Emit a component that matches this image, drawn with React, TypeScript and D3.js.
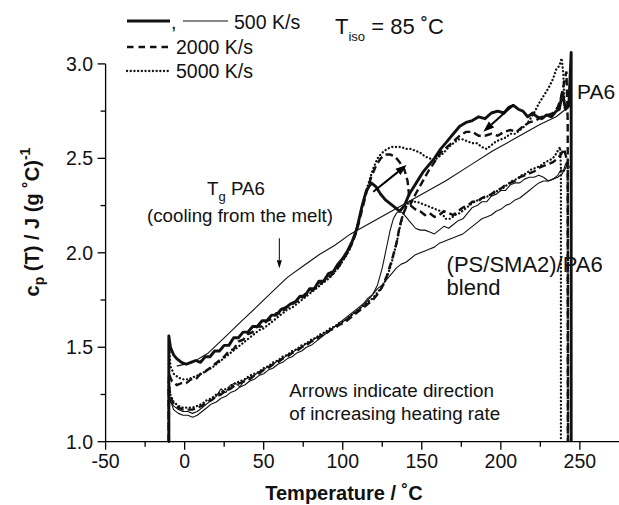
import React from 'react';
import * as d3 from 'd3';

type Pt = [number, number];

// ---- axis ticks ----
const xTickValues = [-50, -25, 0, 25, 50, 75, 100, 125, 150, 175, 200, 225, 250];
const xMajorLabels: [number, string][] = [[-50, '-50'], [0, '0'], [50, '50'], [100, '100'], [150, '150'], [200, '200'], [250, '250']];
const yTickValues = [1.0, 1.25, 1.5, 1.75, 2.0, 2.25, 2.5, 2.75, 3.0];
const yMajorLabels: [number, string][] = [[1.0, '1.0'], [1.5, '1.5'], [2.0, '2.0'], [2.5, '2.5'], [3.0, '3.0']];

// ---- series: 500 K/s thick (upper-left start) ----
const thick500: Pt[] = [[-10,1.0],[-10,1.56],[-9,1.5],[-7,1.46],[-5,1.44],[-2,1.42],[1,1.41],[4,1.42],[7,1.43],[10,1.42],[13,1.45],[16,1.45],[19,1.48],[22,1.48],[25,1.51],[28,1.51],[31,1.55],[34,1.55],[37,1.58],[40,1.58],[43,1.61],[46,1.61],[49,1.64],[52,1.64],[55,1.67],[58,1.67],[61,1.7],[64,1.71],[67,1.73],[70,1.74],[73,1.77],[76,1.77],[79,1.81],[82,1.81],[85,1.85],[88,1.85],[91,1.89],[94,1.9],[97,1.94],[100,1.97],[103,2.01],[106,2.06],[109,2.13],[112,2.24],[115,2.33],[118,2.37],[121,2.35],[124,2.31],[127,2.28],[130,2.26],[133,2.24],[136,2.22],[139,2.25],[142,2.31],[145,2.35],[148,2.39],[151,2.43],[154,2.46],[158,2.5],[162,2.55],[166,2.59],[170,2.63],[174,2.67],[178,2.69],[182,2.7],[186,2.72],[190,2.71],[194,2.74],[198,2.75],[202,2.74],[205,2.77],[208,2.78],[211,2.76],[214,2.75],[217,2.72],[220,2.74],[223,2.72],[226,2.71],[229,2.73],[232,2.72],[235,2.75],[237,2.76],[239,2.85],[240,2.8],[241,2.76],[243,2.78],[244.5,3.06],[244.5,1.0]];

// ---- 2000 K/s dashed (upper-left start) ----
const dashed2000: Pt[] = [[-10,1.0],[-10,1.36],[-8,1.32],[-5,1.3],[-2,1.31],[1,1.31],[4,1.33],[7,1.33],[10,1.36],[13,1.37],[16,1.39],[19,1.41],[22,1.43],[25,1.45],[28,1.48],[31,1.49],[34,1.53],[37,1.54],[40,1.57],[43,1.58],[46,1.61],[49,1.61],[52,1.64],[55,1.65],[58,1.68],[61,1.68],[64,1.71],[67,1.72],[70,1.74],[73,1.75],[76,1.78],[79,1.79],[82,1.81],[85,1.83],[88,1.85],[91,1.87],[94,1.89],[97,1.92],[100,1.96],[103,2.0],[106,2.05],[109,2.12],[112,2.22],[115,2.32],[118,2.4],[121,2.46],[124,2.5],[127,2.52],[130,2.52],[133,2.51],[136,2.48],[139,2.44],[141,2.38],[142,2.3],[143,2.26],[146,2.31],[150,2.37],[154,2.43],[158,2.48],[162,2.53],[166,2.56],[170,2.59],[174,2.62],[178,2.64],[182,2.64],[186,2.62],[190,2.62],[194,2.63],[198,2.62],[202,2.64],[206,2.65],[210,2.64],[214,2.67],[218,2.69],[222,2.7],[226,2.72],[230,2.73],[233,2.74],[236,2.77],[238,2.82],[240,2.9],[241.5,2.96],[242.3,2.7],[242.5,1.0]];

// ---- 5000 K/s dotted (upper-left start) ----
const dotted5000: Pt[] = [[-10,1.0],[-10,1.53],[-9,1.4],[-7,1.36],[-4,1.34],[-1,1.33],[2,1.33],[5,1.34],[8,1.35],[11,1.36],[14,1.38],[17,1.39],[20,1.41],[23,1.43],[26,1.45],[29,1.47],[32,1.49],[35,1.51],[38,1.53],[41,1.55],[44,1.57],[47,1.59],[50,1.6],[53,1.62],[56,1.64],[59,1.66],[62,1.68],[65,1.7],[68,1.71],[71,1.73],[74,1.75],[77,1.77],[80,1.79],[83,1.81],[86,1.83],[89,1.85],[92,1.87],[95,1.9],[98,1.93],[101,1.97],[104,2.01],[107,2.08],[110,2.17],[113,2.27],[116,2.36],[119,2.44],[122,2.5],[125,2.53],[128,2.55],[131,2.56],[134,2.56],[137,2.56],[140,2.55],[143,2.55],[146,2.54],[149,2.53],[152,2.51],[155,2.5],[158,2.49],[161,2.51],[164,2.53],[167,2.56],[170,2.58],[173,2.6],[176,2.6],[179,2.59],[182,2.58],[185,2.58],[188,2.56],[191,2.55],[194,2.57],[197,2.59],[200,2.6],[203,2.61],[206,2.63],[209,2.63],[212,2.65],[215,2.67],[218,2.7],[221,2.74],[224,2.79],[227,2.83],[230,2.87],[233,2.92],[235,2.97],[237,2.99],[238.5,3.03],[239.5,2.95],[240.5,2.75]];

// ---- 500 K/s thin (lower-left start) ----
const thin500: Pt[] = [[-10,1.0],[-10,1.27],[-9,1.21],[-7,1.19],[-4,1.17],[-1,1.16],[2,1.16],[5,1.15],[8,1.16],[11,1.18],[14,1.2],[17,1.22],[20,1.24],[23,1.28],[26,1.26],[29,1.3],[32,1.31],[35,1.29],[38,1.33],[41,1.34],[44,1.35],[47,1.37],[50,1.38],[53,1.4],[56,1.41],[59,1.43],[62,1.44],[65,1.46],[68,1.47],[71,1.49],[74,1.5],[77,1.52],[80,1.53],[83,1.55],[86,1.56],[89,1.58],[92,1.59],[95,1.61],[98,1.62],[101,1.64],[104,1.66],[107,1.68],[110,1.7],[113,1.72],[116,1.75],[119,1.78],[122,1.83],[125,1.92],[128,2.04],[130,2.12],[132,2.18],[134,2.21],[136,2.22],[138,2.21],[140,2.19],[143,2.16],[146,2.13],[149,2.12],[152,2.12],[155,2.11],[158,2.1],[161,2.12],[164,2.14],[167,2.13],[170,2.15],[173,2.17],[176,2.18],[179,2.21],[182,2.24],[185,2.25],[188,2.27],[191,2.27],[194,2.3],[197,2.31],[200,2.33],[203,2.33],[206,2.36],[209,2.37],[212,2.37],[215,2.39],[218,2.4],[221,2.4],[224,2.41],[227,2.4],[230,2.38],[233,2.39],[236,2.41],[238,2.44],[240,2.43],[242,2.47],[244,2.45]];

// ---- 2000 K/s dashed (lower-left start) ----
const dashed2000b: Pt[] = [[-10,1.0],[-10,1.3],[-9,1.24],[-7,1.2],[-4,1.18],[-1,1.17],[2,1.17],[5,1.17],[8,1.18],[11,1.19],[14,1.21],[17,1.22],[20,1.24],[23,1.25],[26,1.27],[29,1.28],[32,1.3],[35,1.31],[38,1.32],[41,1.33],[44,1.35],[47,1.36],[50,1.38],[53,1.39],[56,1.41],[59,1.42],[62,1.44],[65,1.45],[68,1.47],[71,1.48],[74,1.5],[77,1.51],[80,1.53],[83,1.54],[86,1.56],[89,1.57],[92,1.59],[95,1.6],[98,1.62],[101,1.63],[104,1.65],[107,1.67],[110,1.69],[113,1.71],[116,1.73],[119,1.75],[122,1.78],[125,1.82],[128,1.88],[131,1.96],[134,2.05],[136,2.14],[138,2.2],[140,2.24],[143,2.25],[146,2.23],[149,2.22],[152,2.2],[155,2.21],[158,2.19],[161,2.2],[164,2.22],[167,2.21],[170,2.2],[173,2.22],[176,2.24],[179,2.25],[182,2.27],[185,2.27],[188,2.29],[191,2.3],[194,2.31],[197,2.33],[200,2.34],[203,2.36],[206,2.37],[209,2.38],[212,2.4],[215,2.41],[218,2.42],[221,2.43],[224,2.45],[227,2.46],[230,2.47],[233,2.48],[236,2.5],[238,2.52],[240,2.55],[241.5,2.5],[242.3,2.45],[242.4,1.0]];

// ---- 5000 K/s dotted (lower-left start) ----
const dotted5000b: Pt[] = [[-10,1.0],[-10,1.32],[-9,1.25],[-7,1.21],[-4,1.19],[-1,1.18],[2,1.18],[5,1.18],[8,1.19],[11,1.2],[14,1.22],[17,1.23],[20,1.25],[23,1.26],[26,1.28],[29,1.29],[32,1.31],[35,1.32],[38,1.33],[41,1.35],[44,1.36],[47,1.37],[50,1.39],[53,1.4],[56,1.42],[59,1.43],[62,1.45],[65,1.46],[68,1.48],[71,1.49],[74,1.51],[77,1.52],[80,1.54],[83,1.55],[86,1.57],[89,1.58],[92,1.6],[95,1.61],[98,1.63],[101,1.64],[104,1.66],[107,1.68],[110,1.7],[113,1.72],[116,1.74],[119,1.76],[122,1.79],[125,1.82],[128,1.87],[131,1.95],[134,2.05],[136,2.13],[138,2.2],[141,2.26],[144,2.27],[147,2.27],[150,2.26],[153,2.25],[156,2.24],[159,2.23],[162,2.22],[165,2.18],[168,2.18],[171,2.2],[174,2.21],[177,2.23],[180,2.25],[183,2.27],[186,2.28],[189,2.29],[192,2.3],[195,2.31],[198,2.33],[201,2.34],[204,2.36],[207,2.38],[210,2.39],[213,2.41],[216,2.42],[219,2.44],[222,2.45],[225,2.46],[228,2.48],[231,2.49],[234,2.51],[236,2.54],[237.5,2.56],[238,2.45],[238,1.0]];

// ---- thin solid, lowest at high T ----
const thinLow: Pt[] = [[-9,1.22],[-7,1.17],[-4,1.15],[-1,1.14],[2,1.14],[5,1.13],[8,1.14],[11,1.16],[14,1.18],[17,1.2],[20,1.21],[23,1.23],[26,1.24],[29,1.26],[32,1.27],[35,1.29],[38,1.3],[41,1.32],[44,1.33],[47,1.35],[50,1.36],[53,1.38],[56,1.39],[59,1.41],[62,1.42],[65,1.44],[68,1.45],[71,1.47],[74,1.48],[77,1.5],[80,1.51],[83,1.53],[86,1.55],[89,1.57],[92,1.59],[95,1.61],[98,1.63],[101,1.65],[104,1.67],[107,1.69],[110,1.71],[113,1.73],[116,1.76],[119,1.78],[122,1.81],[125,1.83],[128,1.86],[131,1.89],[134,1.92],[137,1.94],[140,1.95],[143,1.97],[146,1.99],[149,2.0],[152,2.01],[155,2.02],[158,2.03],[161,2.05],[164,2.06],[167,2.07],[170,2.08],[173,2.09],[176,2.1],[179,2.12],[182,2.14],[185,2.16],[188,2.18],[191,2.19],[194,2.2],[197,2.22],[200,2.23],[203,2.25],[206,2.26],[209,2.28],[212,2.29],[215,2.31],[218,2.33],[221,2.35],[224,2.37],[227,2.38],[230,2.38],[233,2.39],[236,2.4],[239,2.42],[241,2.47],[243,2.49]];

// ---- cooling curve (thin solid) ----
const cooling500: Pt[] = [[-5,1.4],[5,1.42],[15,1.47],[25,1.55],[35,1.63],[45,1.71],[55,1.79],[65,1.87],[75,1.93],[85,1.99],[95,2.04],[105,2.1],[120,2.17],[135,2.24],[150,2.31],[165,2.38],[180,2.46],[195,2.54],[210,2.61],[225,2.68],[235,2.72],[241,2.76],[243,2.8]];

// ---- annotation arrows (data coords: from -> to) ----
const arrowPA6: [Pt, Pt] = [[119.3, 2.323], [140.4, 2.465]];
const arrowBlend: [Pt, Pt] = [[207.9, 2.782], [188.9, 2.641]];
const arrowTg: [Pt, Pt] = [[59.9, 2.077], [59.9, 1.918]];

const W = 619, H = 505;
const x = d3.scaleLinear().domain([-50, 275]).range([105.6, 619.4]);
const y = d3.scaleLinear().domain([1, 3]).range([441.7, 63.9]);
const line = d3.line<Pt>().x(d => x(d[0])).y(d => y(d[1]));

const FONT = "'Liberation Sans', Arial, Helvetica, sans-serif";

function Arrow({ a, width, head, headW }: { a: [Pt, Pt]; width: number; head: number; headW: number }) {
  const x1 = x(a[0][0]), y1 = y(a[0][1]), x2 = x(a[1][0]), y2 = y(a[1][1]);
  const dx = x2 - x1, dy = y2 - y1;
  const L = Math.hypot(dx, dy);
  const ux = dx / L, uy = dy / L;
  const bx = x2 - ux * head, by = y2 - uy * head;
  const px = -uy * headW / 2, py = ux * headW / 2;
  return (
    <g>
      <line x1={x1} y1={y1} x2={bx} y2={by} stroke="#000" strokeWidth={width} />
      <polygon points={`${x2},${y2} ${bx + px},${by + py} ${bx - px},${by - py}`} fill="#000" />
    </g>
  );
}

export default function App() {
  const styles = {
    thick: { stroke: '#111', strokeWidth: 2.9, fill: 'none', strokeLinejoin: 'round' as const },
    thin: { stroke: '#111', strokeWidth: 1.1, fill: 'none', strokeLinejoin: 'round' as const },
    dashed: { stroke: '#111', strokeWidth: 2.4, fill: 'none', strokeDasharray: '7.5 4' },
    dotted: { stroke: '#111', strokeWidth: 2.3, fill: 'none', strokeDasharray: '0.1 3.6', strokeLinecap: 'round' as const },
  };
  const x0 = x(-50), y0 = y(1);
  return (
    <svg width={W} height={H} style={{ position: 'absolute', left: 0, top: 0, background: '#fff' }} fontFamily={FONT}>
      <rect x={0} y={0} width={W} height={H} fill="#fff" />
      {/* series */}
      <path d={line(thinLow) || ''} {...styles.thin} />
      <path d={line(cooling500) || ''} {...styles.thin} />
      <path d={line(thin500) || ''} {...styles.thin} />
      <path d={line(dotted5000b) || ''} {...styles.dotted} />
      <path d={line(dashed2000b) || ''} {...styles.dashed} />
      <path d={line(dotted5000) || ''} {...styles.dotted} />
      <path d={line(dashed2000) || ''} {...styles.dashed} />
      <path d={line(thick500) || ''} {...styles.thick} />

      {/* arrows */}
      <Arrow a={arrowPA6} width={2} head={11} headW={8} />
      <Arrow a={arrowBlend} width={2} head={11} headW={8} />
      <Arrow a={arrowTg} width={1} head={8} headW={5} />

      {/* axes */}
      <line x1={x0} y1={y0} x2={W} y2={y0} stroke="#000" strokeWidth={1.3} />
      <line x1={x0} y1={y0} x2={x0} y2={y(3)} stroke="#000" strokeWidth={1.3} />
      {xTickValues.map(v => {
        const major = v % 50 === 0;
        return <line key={'xt' + v} x1={x(v)} x2={x(v)} y1={y0} y2={y0 + (major ? 8 : 5)} stroke="#000" strokeWidth={1.3} />;
      })}
      {yTickValues.map(v => {
        const major = Math.abs((v * 2) - Math.round(v * 2)) < 1e-6;
        return <line key={'yt' + v} x1={x0 - (major ? 8 : 5)} x2={x0} y1={y(v)} y2={y(v)} stroke="#000" strokeWidth={1.3} />;
      })}
      {xMajorLabels.map(([v, s]) => (
        <text key={'xl' + v} x={x(v)} y={468} textAnchor="middle" fontSize={19.5} fill="#111">{s}</text>
      ))}
      {yMajorLabels.map(([v, s]) => (
        <text key={'yl' + v} x={93} y={y(v) + 7} textAnchor="end" fontSize={19.5} fill="#111">{s}</text>
      ))}
      <text x={344} y={500} textAnchor="middle" fontSize={20} fontWeight="bold" fill="#111">Temperature / ˚C</text>
      <text transform="translate(39,222) rotate(-90)" textAnchor="middle" fontSize={20} fontWeight="bold" fill="#111">
        c<tspan fontSize={14} dy={5}>p</tspan><tspan dy={-5}> (T) / J (g ˚C)</tspan><tspan fontSize={14} dy={-9}>-1</tspan>
      </text>

      {/* legend */}
      <line x1={127} x2={170} y1={21} y2={21} {...styles.thick} />
      <text x={171} y={29} fontSize={19.5} fill="#111">,</text>
      <line x1={183} x2={228} y1={21} y2={21} {...styles.thin} />
      <text x={234} y={29} fontSize={19.5} fill="#111">500 K/s</text>
      <line x1={127} x2={168} y1={47} y2={47} {...styles.dashed} strokeDasharray="6.5 5" />
      <text x={176} y={54} fontSize={19.5} fill="#111">2000 K/s</text>
      <line x1={127} x2={168} y1={71} y2={71} {...styles.dotted} />
      <text x={176} y={78} fontSize={19.5} fill="#111">5000 K/s</text>

      <text x={335} y={34} fontSize={22} fill="#111">
        T<tspan fontSize={13} dy={7}>iso</tspan><tspan dy={-7} fontSize={22}> = 85 ˚C</tspan>
      </text>

      {/* annotations */}
      <text x={236} y={y(2.306)} textAnchor="middle" fontSize={18.7} fill="#111">
        T<tspan fontSize={13} dy={6}>g</tspan><tspan dy={-6}> PA6</tspan>
      </text>
      <text x={240} y={y(2.165)} textAnchor="middle" fontSize={18.7} fill="#111">(cooling from the melt)</text>
      <text x={x(248.2)} y={y(2.814)} fontSize={21} fill="#111">PA6</text>
      <text x={x(165.7)} y={y(1.898)} fontSize={22} fill="#111">(PS/SMA2)/PA6</text>
      <text x={x(165.7)} y={y(1.777)} fontSize={22} fill="#111">blend</text>
      <text x={x(66.2)} y={y(1.238)} fontSize={18.8} fill="#111">Arrows indicate direction</text>
      <text x={x(66.2)} y={y(1.115)} fontSize={18.8} fill="#111">of increasing heating rate</text>
    </svg>
  );
}
